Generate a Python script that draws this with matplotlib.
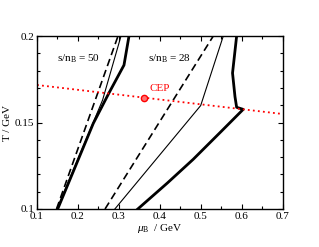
import matplotlib
matplotlib.use("Agg")
import matplotlib.pyplot as plt
from matplotlib.ticker import MultipleLocator

plt.rcParams["font.family"] = "Liberation Serif"
plt.rcParams["mathtext.fontset"] = "custom"
plt.rcParams["mathtext.rm"] = "Liberation Serif"
plt.rcParams["mathtext.it"] = "Liberation Serif:italic"

# === s/nB = 50 curves ===
mu50_dash = [0.1476, 0.2976]
T50_dash = [0.100, 0.200]
mu50_thin = [0.1488, 0.2600, 0.3049]
T50_thin = [0.100, 0.163, 0.200]
mu50_thick = [0.1505, 0.2373, 0.2756, 0.3122, 0.3244]
T50_thick = [0.100, 0.1495, 0.1671, 0.1832, 0.200]

# === s/nB = 28 curves ===
mu28_dash = [0.266, 0.530]
T28_dash = [0.100, 0.200]
mu28_thin = [0.290, 0.4993, 0.5544]
T28_thin = [0.100, 0.1598, 0.200]
mu28_thick = [0.346, 0.418, 0.481, 0.550, 0.603, 0.587, 0.583, 0.577, 0.587]
T28_thick = [0.100, 0.115, 0.1287, 0.145, 0.1576, 0.1588, 0.1649, 0.1786, 0.200]

# === CEP line and point ===
mu_cep_line = [0.1, 0.7]
T_cep_line = [0.1717, 0.1549]
mu_cep, T_cep = 0.360, 0.1643

fig = plt.figure(figsize=(3.19, 2.47), dpi=100)
ax = fig.add_axes([0.116, 0.154, 0.771, 0.700])

ax.plot(mu50_dash, T50_dash, color="black", lw=1.2, dashes=(4.5, 2.5))
ax.plot(mu50_thin, T50_thin, color="black", lw=0.8)
ax.plot(mu50_thick, T50_thick, color="black", lw=2.0)
ax.plot(mu28_dash, T28_dash, color="black", lw=1.2, dashes=(4.5, 2.5))
ax.plot(mu28_thin, T28_thin, color="black", lw=0.8)
ax.plot(mu28_thick, T28_thick, color="black", lw=2.0)

ax.plot(mu_cep_line, T_cep_line, color="red", lw=1.3, linestyle=(0, (1, 1.8)))
ax.plot([mu_cep], [T_cep], "o", ms=4.5, color="red", mfc="#ff7070", mew=1.0)
ax.text(0.375, 0.1697, "CEP", color="red", fontsize=8, va="center")

ax.text(0.15, 0.1866, r"s/n$_{\rm B}$ = 50", fontsize=8, va="center")
ax.text(0.37, 0.1866, r"s/n$_{\rm B}$ = 28", fontsize=8, va="center")

ax.set_xlim(0.1, 0.7)
ax.set_ylim(0.1, 0.2)
ax.xaxis.set_minor_locator(MultipleLocator(0.05))
ax.yaxis.set_minor_locator(MultipleLocator(0.01))
ax.set_xticks([0.1, 0.2, 0.3, 0.4, 0.5, 0.6, 0.7])
ax.set_xticklabels(["0.1", "0.2", "0.3", "0.4", "0.5", "0.6", "0.7"])
ax.set_yticks([0.1, 0.15, 0.2])
ax.set_yticklabels(["0.1", "0.15", "0.2"])
ax.tick_params(which="both", direction="in", top=True, right=True, labelsize=8, width=0.8, pad=2)
ax.tick_params(which="major", length=3.6)
ax.tick_params(which="minor", length=2.2)
for s in ax.spines.values():
    s.set_linewidth(1.0)

ax.set_xlabel(r"$\mu_{\rm B}$  / GeV", fontsize=8, labelpad=1)
ax.set_ylabel("T / GeV", fontsize=8, labelpad=2)

fig.savefig("out.png", dpi=100)
